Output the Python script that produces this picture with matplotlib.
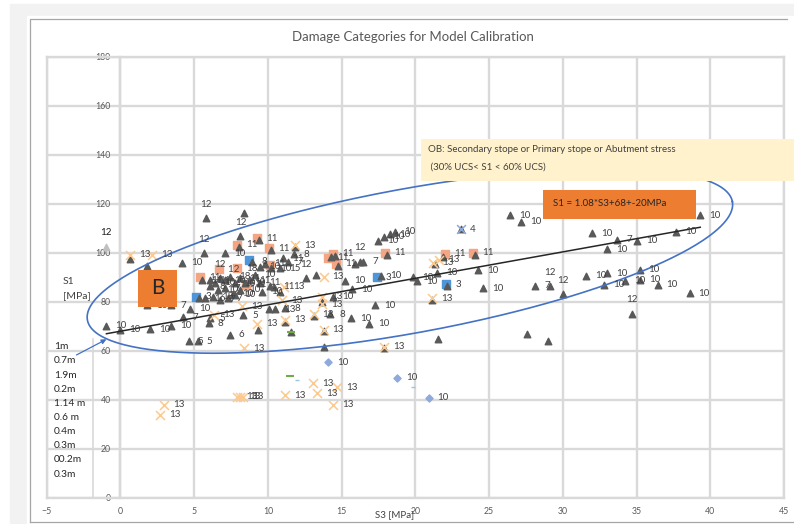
import numpy as np
import matplotlib
matplotlib.use('Agg')
from matplotlib import pyplot as plt
from matplotlib.patches import Rectangle
from matplotlib.lines import Line2D

plt.rcParams['font.family'] = ['Lato', 'DejaVu Sans']

W, H = 794, 524

# damage points, S3 / S1 in MPa with damage category
tri_s3 = [-0.95, -0.05, 2.03, 3.46, 4.25, 4.63, 5.24, 6.1, 6.0, 7.41, 9.34, 4.7, 3.46, 1.83,
          8.32, 10.06, 10.51, 11.19, 11.19, 11.59, 13.78, 13.78, 14.24, 13.1, 15.64, 16.88,
          17.29, 14.44, 13.67, 15.71, 15.25, 13.29, 12.61, 10.85, 10.44, 17.85, 21.56, 27.57,
          28.99,
          0.68, 1.8, 4.18, 5.65, 5.83, 8.4, 8.14, 7.12, 8.05, 9.41, 10.24, 11.86, 11.8, 11.39,
          11.03, 10.85,
          5.55, 6.1, 6.44, 6.78, 7.12, 7.46, 7.8, 8.14, 8.47, 8.81, 9.15, 9.49, 6.1, 6.61, 7.12,
          7.63, 8.14, 5.76, 6.27, 6.78, 7.29, 7.8, 9.6, 10.17, 8.93, 9.49, 9.83, 10.2, 5.3,
          14.3, 14.58, 14.78, 16.27, 15.93, 16.47, 17.49, 17.9, 18.31, 18.64, 18.1, 17.69, 19.86,
          20.14, 21.49, 21.88, 21.3, 23.1, 24.07, 24.27, 24.59, 22.17, 21.15, 26.44, 27.19,
          28.14, 29.15, 30.01,
          39.32, 31.98, 33.69, 35.03, 33.0, 37.69, 31.59, 33.0, 32.77, 35.21, 34.24, 35.25,
          36.43, 38.6, 34.69]
tri_s1 = [70.2, 68.6, 68.8, 70.2, 73.7, 63.8, 63.8, 73.3, 71.3, 66.5, 68.5, 77.1, 78.7, 78.7,
          74.6, 77.0, 77.0, 77.4, 71.8, 67.7, 68.1, 61.7, 75.0, 74.3, 73.3, 71.0,
          78.7, 82.1, 80.0, 85.2, 88.7, 91.0, 89.7, 84.2, 86.2, 61.1, 64.7, 66.9,
          63.8,
          97.4, 94.6, 96.0, 99.9, 114.2, 116.3, 106.9, 99.9, 102.6, 105.2, 101.1, 102.2, 99.5, 96.4,
          97.8, 93.7,
          88.9, 88.9, 87.8, 89.6, 88.9, 90.3, 87.6, 89.6, 87.8, 88.9, 91.0, 87.8, 86.3, 84.9, 85.5,
          83.4, 84.9, 81.4, 82.1, 80.8, 81.4, 82.8, 84.2, 86.3, 96.4, 94.3, 95.5, 93.8, 81.5,
          98.3, 98.7, 94.7, 96.4, 95.4, 96.3, 104.9, 106.5, 107.7, 108.6, 99.1, 90.6, 90.1,
          88.5, 91.9, 98.5, 95.3, 109.7, 99.3, 92.8, 85.6, 86.5, 80.7, 115.4, 112.8,
          86.5, 86.5, 83.2,
          115.4, 108.1, 105.3, 104.9, 101.5, 108.7, 90.7, 91.7, 86.9, 93.1, 88.6, 89.0,
          86.9, 83.5, 75.1]
tri_lab = ['10', '10', '10', '10', '7', '5', '5', '5', '8', '6', '', '10', '7', '10',
           '5', '', '13', '8', '', '', '', '', '8', '', '10', '10',
           '10', '10', '', '10', '10', '', '12', '', '11', '', '', '',
           '',
           '', '', '10', '12', '12', '', '12', '10', '', '', '', '', '8', '7',
           '11', '15',
           '11', '11', '10', '12', '10', '18', '10', '11', '10', '11', '10', '11', '8', '10', '7',
           '10', '10', '16', '18', '7', '7', '10', '10', '', '8', '10', '11', '10', '',
           '', '', '', '12', '', '7', '10', '10', '10', '10', '', '10', '10',
           '10', '10', '', '', '4', '', '10', '10', '', '', '10', '10',
           '7', '12', '12',
           '10', '10', '7', '10', '10', '10', '10', '10', '10', '10', '10', '10',
           '10', '10', '12']

grey_s3 = [-0.95]
grey_s1 = [102.5]
grey_lab = ['12']

orange_s3 = [7.91, 9.27, 10.1, 14.1, 14.44, 14.64, 17.97, 22.03, 23.9, 5.38, 6.66, 7.91, 10.17, 8.54]
orange_s1 = [103.3, 106.0, 101.9, 98.0, 99.6, 95.5, 100.0, 99.6, 100.1, 90.1, 93.3, 93.7, 95.0, 86.9]
orange_lab = ['11', '11', '11', '11', '11', '11', '11', '11', '11', '11', '12', '18', '', '11']

blue_s3 = [5.15, 8.7, 17.4, 22.1]
blue_s1 = [82.1, 96.9, 90.1, 87.1]
blue_lab = ['3', '', '3', '3']

x13_s3 = [0.68, 2.15, 6.33, 8.25, 8.36, 9.27, 11.86, 7.91, 8.14, 8.34, 2.94, 2.71, 11.19, 13.06,
          13.33, 14.69, 14.42, 17.85, 21.15, 21.2, 21.63, 13.78, 10.96, 11.07, 13.67, 13.67,
          11.19, 13.1, 13.78]
x13_s1 = [99.2, 99.2, 74.7, 78.1, 61.1, 71.0, 103.2, 41.3, 41.3, 41.3, 37.9, 33.8, 41.9, 46.8,
          42.7, 45.1, 37.9, 61.7, 81.5, 96.0, 97.1, 90.3, 80.7, 86.2, 82.1, 79.0,
          72.6, 74.9, 68.5]

dia_s3 = [14.06, 18.76, 20.9]
dia_s1 = [55.3, 49.0, 40.9]
dia_lab = ['10', '10', '10']

green_s3 = [11.5, 11.59]
green_s1 = [49.7, 67.7]
ltblue_s3 = [11.98, 19.86]
ltblue_s1 = [48.1, 45.2]
bluex_s3 = [23.1]
bluex_s1 = [109.7]

# fitted band S1 = 1.08*S3 + 68
slope, icept = 1.08, 68

# the ellipse round the OB points: centre and the two half axes
ell_c = (19.63, 96.73)
ell_a = (21.87, 24.19)
ell_b = (0.88, -28.94)

sizes = ['1m', '0.7m', '1.9m', '0.2m', '1.14 m', '0.6 m', '0.4m', '0.3m', '00.2m', '0.3m']


def fx(x):
    return x / W


def fy(y):
    return 1 - y / H


fig = plt.figure(figsize=(W / 100, H / 100), dpi=100)
fig.patch.set_facecolor('white')
fig.add_artist(Rectangle((fx(10), 0), 1 - fx(10), fy(4), color='#f2f2f2', zorder=-5))
fig.add_artist(Rectangle((fx(27), 0), 1 - fx(27), fy(16), color='white', zorder=-4))
fig.add_artist(Line2D([fx(30), fx(30), fx(787)], [fy(522), fy(19), fy(19)], color='#a6a6a6', lw=0.9))
fig.add_artist(Line2D([fx(30), 1], [fy(522), fy(522)], color='#a6a6a6', lw=0.9))

ax = fig.add_axes([fx(46.7), fy(497.7), fx(784) - fx(46.7), fy(57) - fy(497.7)])
ax.set_facecolor('white')
ax.set_xlim(-5, 45)
ax.set_ylim(0, 180)
ax.set_xticks(range(-5, 46, 5))
ax.set_yticks(range(0, 181, 20))
gc = '#d9d9d9'
ax.grid(color=gc, lw=1.7)
ax.set_axisbelow(True)
for s in ax.spines.values():
    s.set_color(gc)
    s.set_linewidth(1.7)
ax.spines['left'].set_position(('data', 0))
ax.axvline(-5, color=gc, lw=1.7, clip_on=False, zorder=0.5)
ax.plot([-1.83, -1.83], [0, 65], color=gc, lw=1.2, zorder=0.5)
ax.tick_params(length=0, labelsize=6.3, labelcolor='#595959')
ax.tick_params(axis='y', pad=7)
ax.tick_params(axis='x', pad=7)

ax.scatter(orange_s3, orange_s1, marker='s', s=26, color='#f4a582', zorder=2)
ax.scatter(blue_s3, blue_s1, marker='s', s=26, color='#4e95d9', zorder=2)
ax.scatter(tri_s3, tri_s1, marker='^', s=22, color='#595959', zorder=3)
ax.scatter(grey_s3, grey_s1, marker='^', s=22, color='#c0c0c0', zorder=3)
ax.scatter(x13_s3, x13_s1, marker='x', s=42, color='#fcc98f', lw=1.1, zorder=3.2)
ax.scatter(dia_s3, dia_s1, marker='D', s=13, color='#8ea9db', zorder=3)
ax.scatter(green_s3, green_s1, marker='_', s=30, color='#70ad47', lw=1.5, zorder=3.3)
ax.scatter(ltblue_s3, ltblue_s1, marker='_', s=8, color='#9dc3e6', lw=1, zorder=3.3)
ax.scatter(bluex_s3, bluex_s1, marker='x', s=40, color='#8ea9db', lw=1.1, zorder=3.3)

# trend line over the range of the data
tx = np.array([min(tri_s3), max(tri_s3)])
ax.plot(tx, slope * tx + icept, color='#262626', lw=1.1, zorder=3.5)

t = np.linspace(0, 2 * np.pi, 400)
ax.plot(ell_c[0] + ell_a[0] * np.cos(t) + ell_b[0] * np.sin(t),
        ell_c[1] + ell_a[1] * np.cos(t) + ell_b[1] * np.sin(t),
        color='#4472c4', lw=1.2, zorder=4)


def put_labels(xs, ys, labs, color='#404040'):
    for x, y, lab in zip(xs, ys, labs):
        if not lab:
            continue
        if lab == '12':
            ax.annotate(lab, (x, y), xytext=(0, 10), textcoords='offset points',
                        ha='center', va='center', fontsize=7, color=color, zorder=4.5)
        else:
            ax.annotate(lab, (x, y), xytext=(6.5, 0), textcoords='offset points',
                        ha='left', va='center', fontsize=7, color=color, zorder=4.5)


put_labels(tri_s3, tri_s1, tri_lab)
put_labels(grey_s3, grey_s1, grey_lab, color='#1a1a1a')
put_labels(x13_s3, x13_s1, ['13'] * len(x13_s3))
put_labels(orange_s3, orange_s1, [l if l != '12' else '12 ' for l in orange_lab])
put_labels(blue_s3, blue_s1, blue_lab)
put_labels(dia_s3, dia_s1, dia_lab)

ax.annotate('', xy=(-0.95, 64.7), xytext=(-2.98, 58.3),
            arrowprops=dict(arrowstyle='-|>', color='#4472c4', lw=0.9, mutation_scale=7,
                            shrinkA=0, shrinkB=0),
            annotation_clip=False, zorder=4)

# text boxes
fig.add_artist(Rectangle((fx(421), fy(181)), 1 - fx(421), (181 - 139) / H,
                         facecolor='#fff2cc', edgecolor='none', zorder=5))
fig.text(fx(428), fy(150), 'OB: Secondary stope or Primary stope or Abutment stress',
         fontsize=7, color='#404040', va='center', zorder=6)
fig.text(fx(428), fy(167), ' (30% UCS< S1 < 60% UCS)',
         fontsize=7, color='#404040', va='center', zorder=6)

fig.add_artist(Rectangle((fx(543), fy(219)), fx(696) - fx(543), (219 - 190) / H,
                         facecolor='#ed7d31', edgecolor='none', zorder=5))
fig.text(fx(553), fy(204), 'S1 = 1.08*S3+68+-20MPa', fontsize=7, color='#262626',
         va='center', zorder=6)

fig.add_artist(Rectangle((fx(138), fy(307)), fx(177) - fx(138), (307 - 270) / H,
                         facecolor='#ed7d31', edgecolor='none', zorder=5))
fig.text(fx(157.5), fy(288.5), 'B', fontsize=15, color='#262626', ha='center', va='center',
         zorder=6)

fig.text(fx(413), fy(37), 'Damage Categories for Model Calibration', fontsize=9.5,
         color='#595959', ha='center', va='center')
fig.text(fx(63), fy(281), 'S1', fontsize=7.5, color='#404040', va='center')
fig.text(fx(63), fy(296), '[MPa]', fontsize=7.5, color='#404040', va='center')
fig.text(fx(395), fy(515), 'S3 [MPa]', fontsize=7, color='#404040', ha='center', va='center')

for i, s in enumerate(sizes):
    fig.text(fx(54), fy(346.7 + i * 14.15), s, fontsize=7.3, color='#262626', va='center')

fig.savefig('out.png', dpi=100)
